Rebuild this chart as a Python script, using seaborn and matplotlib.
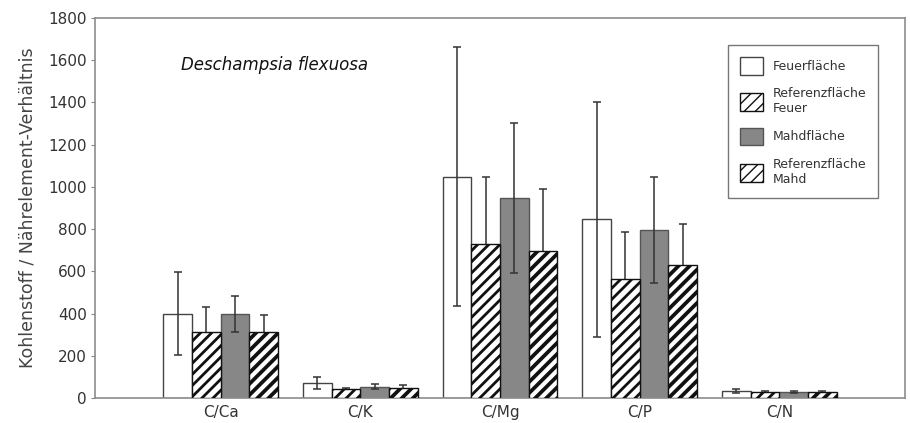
import matplotlib
matplotlib.use("Agg")
import matplotlib.pyplot as plt
import seaborn as sns
import pandas as pd
import numpy as np

# Carbon / nutrient ratios of Deschampsia flexuosa per site type
ratios = ["C/Ca", "C/K", "C/Mg", "C/P", "C/N"]
sites = ["Feuerfläche", "Referenzfläche\nFeuer", "Mahdfläche", "Referenzfläche\nMahd"]

feuer_mean = [400, 70, 1048, 846, 32]
feuer_sd = [197, 28, 613, 555, 9]
ref_feuer_mean = [315, 41, 729, 562, 28]
ref_feuer_sd = [117, 8, 319, 223, 5]
mahd_mean = [396, 54, 946, 796, 27]
mahd_sd = [85, 12, 355, 251, 5]
ref_mahd_mean = [314, 46, 698, 630, 28]
ref_mahd_sd = [79, 15, 291, 194, 5]

means = [feuer_mean, ref_feuer_mean, mahd_mean, ref_mahd_mean]
sds = [feuer_sd, ref_feuer_sd, mahd_sd, ref_mahd_sd]

df = pd.DataFrame({
    "ratio": np.tile(ratios, len(sites)),
    "site": np.repeat(sites, len(ratios)),
    "value": np.concatenate(means),
})

sns.set_theme(style="white")
plt.rcParams["font.family"] = ["DejaVu Sans"]
plt.rcParams["hatch.color"] = "#111111"

fig = plt.figure(figsize=(9.10, 4.23), dpi=100)
ax = fig.add_axes([0.1044, 0.0591, 0.8901, 0.8983])

palette = ["white", "white", "#878787", "white"]
sns.barplot(data=df, x="ratio", y="value", hue="site", hue_order=sites,
            order=ratios, palette=palette, errorbar=None, width=0.82,
            saturation=1, edgecolor="#222222", linewidth=1.0, ax=ax)
bar_containers = list(ax.containers)

hatches = [None, "///", None, "///"]
hatch_lw = [None, 2.0, None, 2.7]
bar_z = [1, 3, 1, 3]
edge_cols = ["#444444", "#111111", "#555555", "#111111"]
for cont, h, hl, z, ec in zip(bar_containers, hatches, hatch_lw, bar_z, edge_cols):
    for p in cont.patches:
        p.set_zorder(z)
        p.set_edgecolor(ec)
        if h:
            p.set_hatch(h)
            p.set_hatch_linewidth(hl)

for cont, m, s in zip(bar_containers, means, sds):
    xs = [p.get_x() + p.get_width() / 2 for p in cont.patches]
    ax.errorbar(xs, m, yerr=s, fmt="none", ecolor="#333333",
                elinewidth=1.1, capsize=3, capthick=1.1, zorder=2)

ax.set_xlim(-0.9, 4.9)
ax.set_ylim(0, 1800)
ax.set_yticks(np.arange(0, 1801, 200))
ax.set_xlabel("")
ax.set_ylabel("Kohlenstoff / Nährelement-Verhältnis", fontsize=12.5,
              color="#444444", labelpad=8)
ax.tick_params(axis="y", left=True, length=3, width=0.8, color="#888888",
               labelsize=11, labelcolor="#333333", pad=3)
ax.tick_params(axis="x", bottom=False, length=0, labelsize=11,
               labelcolor="#333333", pad=5)

for side, spine in ax.spines.items():
    spine.set_visible(True)
    spine.set_color("#8c8c8c")
    spine.set_linewidth(1.2)

ax.text(0.106, 0.876, "Deschampsia flexuosa", transform=ax.transAxes,
        fontsize=12, fontstyle="italic", color="#111111", va="center", ha="left")

handles = [c.patches[0] for c in bar_containers]
leg = ax.legend(handles=handles, labels=sites, loc="upper right",
                bbox_to_anchor=(0.967, 0.929), fontsize=9, frameon=True,
                fancybox=False, edgecolor="#777777", framealpha=1,
                handlelength=1.85, handleheight=1.8, labelspacing=1.0,
                borderpad=0.95, handletextpad=0.75, borderaxespad=0)
leg.get_frame().set_linewidth(1.0)
for t in leg.get_texts():
    t.set_color("#333333")

fig.savefig("out.png", dpi=100)
